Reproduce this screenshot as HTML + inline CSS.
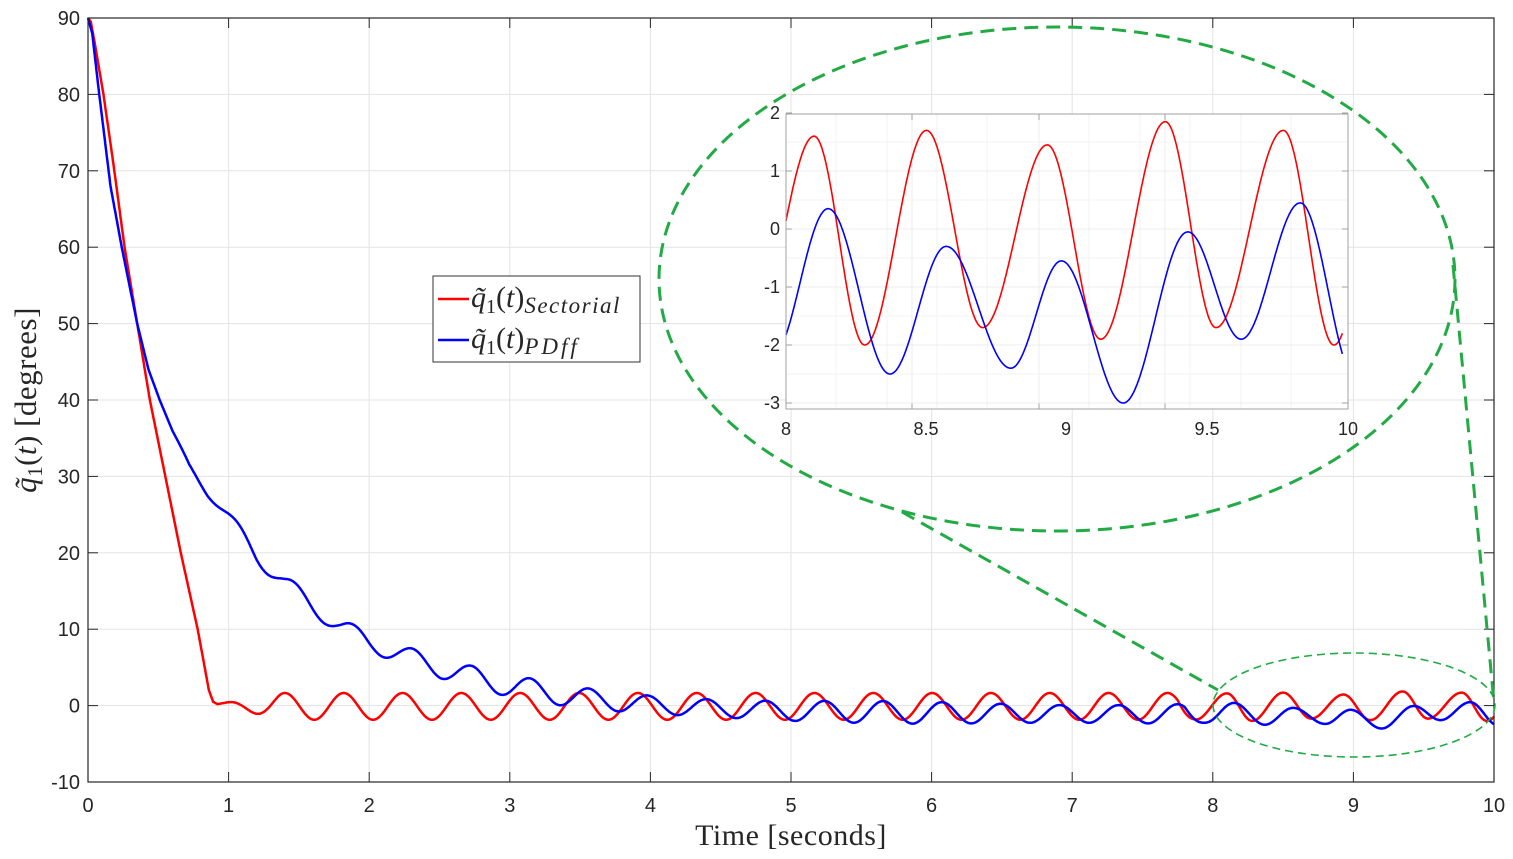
<!DOCTYPE html>
<html><head><meta charset="utf-8"><style>
html,body{margin:0;padding:0;background:#fff;}
svg{display:block;}
.tk{font-family:"Liberation Sans",sans-serif;font-size:20px;fill:#262626;}
.tki{font-family:"Liberation Sans",sans-serif;font-size:18px;fill:#262626;}
.ser{font-family:"Liberation Serif","DejaVu Serif",serif;fill:#262626;}
</style></head><body>
<svg id="s" width="1513" height="859" viewBox="0 0 1513 859" xmlns="http://www.w3.org/2000/svg">
<rect width="1513" height="859" fill="#fff"/>
<g id="grid" stroke="#e3e3e3" stroke-width="1"></g>
<g id="ticks" stroke="#262626" stroke-width="1"></g>
<path id="red" fill="none" stroke="#ff0000" stroke-width="2.5"/>
<path id="blue" fill="none" stroke="#0000ff" stroke-width="2.5"/>
<rect x="88" y="18" width="1406" height="764" fill="none" stroke="#262626" stroke-width="1.2"/>
<g id="labels"></g>
<text class="ser" x="791" y="845" font-size="30" text-anchor="middle" letter-spacing="0.5">Time [seconds]</text>
<text class="ser" font-size="31" transform="translate(36,400) rotate(-90)" text-anchor="middle" letter-spacing="0.5"><tspan font-style="italic">q̃</tspan><tspan font-size="21" dy="6">1</tspan><tspan dy="-6">(</tspan><tspan font-style="italic">t</tspan><tspan>)  [degrees]</tspan></text>
<!-- legend -->
<rect x="433" y="276" width="207" height="86" fill="#fff" stroke="#333" stroke-width="1"/>
<line x1="438" y1="299" x2="469" y2="299" stroke="#ff0000" stroke-width="2.5"/>
<line x1="438" y1="340" x2="469" y2="340" stroke="#0000ff" stroke-width="2.5"/>
<text class="ser" x="471" y="307" font-size="30"><tspan font-style="italic">q̃</tspan><tspan font-size="20" dy="6">1</tspan><tspan dy="-6">(</tspan><tspan font-style="italic">t</tspan><tspan>)</tspan><tspan font-style="italic" font-size="23" dy="6" letter-spacing="1.5">Sectorial</tspan></text>
<text class="ser" x="471" y="348" font-size="30"><tspan font-style="italic">q̃</tspan><tspan font-size="20" dy="6">1</tspan><tspan dy="-6">(</tspan><tspan font-style="italic">t</tspan><tspan>)</tspan><tspan font-style="italic" font-size="23" dy="6" letter-spacing="3">PDff</tspan></text>
<!-- zoom annotations -->
<ellipse cx="1057" cy="279" rx="398" ry="252" fill="none" stroke="#22aa44" stroke-width="3" stroke-dasharray="14,8"/>
<ellipse cx="1354" cy="705" rx="141" ry="52" fill="none" stroke="#22aa44" stroke-width="1.6" stroke-dasharray="8,5"/>
<line x1="902" y1="512" x2="1218" y2="690" stroke="#22aa44" stroke-width="3" stroke-dasharray="14,8"/>
<line x1="1453" y1="265" x2="1494" y2="703" stroke="#22aa44" stroke-width="3" stroke-dasharray="14,8"/>
<!-- inset -->
<rect x="786" y="114" width="562" height="295" fill="#fff"/>
<g id="igrid" stroke="#ececec" stroke-width="1"></g>
<path id="ired" fill="none" stroke="#ff0000" stroke-width="1.6"/>
<path id="iblue" fill="none" stroke="#0000ff" stroke-width="1.6"/>
<rect x="786" y="114" width="562" height="295" fill="none" stroke="#a0a0a0" stroke-width="1"/>
<g id="ilabels"></g>
</svg>
<script>
var NS="http://www.w3.org/2000/svg";
function el(p,tag,a,txt){var e=document.createElementNS(NS,tag);for(var k in a)e.setAttribute(k,a[k]);if(txt!==undefined)e.textContent=txt;document.getElementById(p).appendChild(e);return e;}
function X(t){return 88+140.6*t;} function Y(v){return 705.6-7.64*v;}
for(var i=0;i<=10;i++){var x=X(i);
 if(i>0&&i<10)el("grid","line",{x1:x,y1:18,x2:x,y2:782});
 el("ticks","line",{x1:x,y1:782,x2:x,y2:772});el("ticks","line",{x1:x,y1:18,x2:x,y2:28});
 el("labels","text",{x:x,y:812,"class":"tk","text-anchor":"middle"},String(i));}
for(var v=-10;v<=90;v+=10){var y=Y(v);
 if(v>-10&&v<90)el("grid","line",{x1:88,y1:y,x2:1494,y2:y});
 el("ticks","line",{x1:88,y1:y,x2:98,y2:y});el("ticks","line",{x1:1494,y1:y,x2:1484,y2:y});
 el("labels","text",{x:80,y:y+7,"class":"tk","text-anchor":"end"},String(v));}
function interp(pts,t){if(t<=pts[0][0])return pts[0][1];for(var i=0;i<pts.length-1;i++){if(t<=pts[i+1][0]){var a=pts[i],b=pts[i+1],f=(t-a[0])/(b[0]-a[0]);var s=(1-Math.cos(Math.PI*f))/2;return a[1]+(b[1]-a[1])*(pts.smooth?s:f);}}return pts[pts.length-1][1];}
var P=0.4185;
var rdec=[[0,90],[0.02,89.5],[0.05,86.5],[0.11,80],[0.18,71],[0.26,60],[0.35,50],[0.44,40],[0.55,30],[0.66,20],[0.78,10],[0.83,5],[0.86,2],[0.89,0.5],[0.92,0.2]];
var rext=[[7.88,-1.8],[8.1,1.6],[8.28,-2.0],[8.5,1.7],[8.7,-1.7],[8.93,1.45],[9.12,-1.9],[9.35,1.85],[9.53,-1.7],[9.77,1.7],[9.95,-2.0],[10.15,1.7]];rext.smooth=1;
var bext=[[7.95,-2.2],[8.15,0.35],[8.37,-2.5],[8.57,-0.3],[8.8,-2.4],[8.98,-0.55],[9.2,-3.0],[9.43,-0.05],[9.62,-1.9],[9.83,0.45],[10.03,-2.6]];bext.smooth=1;
function blendf(a,b,t,t0,t1){if(t<=t0)return a(t);if(t>=t1)return b(t);var f=(t-t0)/(t1-t0);return a(t)*(1-f)+b(t)*f;}
function red0(t){if(t<0.92)return interp(rdec,t);
 var r=Math.min(1,(t-0.92)/0.45);
 return (-0.1*r+0.2*(1-r))+1.75*r*Math.cos(2*Math.PI*(t-1.4)/P);}
function red(t){return blendf(red0,function(t){return interp(rext,t);},t,7.75,7.95);}
var bm=[[0,90],[0.03,88],[0.08,80],[0.16,68],[0.24,60],[0.35,50],[0.43,44],[0.51,40],[0.6,36],[0.72,31.5],[0.85,28],[1.0,24.5],[1.2,19.8],[1.4,16],[1.6,13],[1.8,10.3],[2.0,8.3],[2.25,6.5],[2.5,5],[2.7,3.9],[3.0,2.6],[3.3,1.6],[3.6,0.8],[4.0,0.1],[4.5,-0.4],[5,-0.7],[6,-0.95],[7,-1.1],[10,-1.15]];
function blue0(t){var m=interp(bm,t);
 var amp=t<0.6?0:1.3*Math.min(1,(t-0.6)/0.6)*(1+0.12*Math.sin(t*2.3+1));
 return m+amp*Math.cos(2*Math.PI*(t-1.47)/P);}
function blue(t){return blendf(blue0,function(t){return interp(bext,t);},t,7.8,7.97);}
function path(f,x,y,t0,t1,n){var d="";for(var i=0;i<=n;i++){var t=t0+(t1-t0)*i/n;d+=(i?"L":"M")+x(t).toFixed(1)+","+y(f(t)).toFixed(1);}return d;}
document.getElementById("red").setAttribute("d",path(red,X,Y,0,10,3000));
document.getElementById("blue").setAttribute("d",path(blue,X,Y,0,10,3000));
function IX(t){return 786+281*(t-8);} function IY(v){return 229-58*v;}
function clampY(f){return function(t){return Math.max(-3.08,Math.min(2.0,f(t)));};}
document.getElementById("ired").setAttribute("d",path(clampY(red),IX,IY,8,9.98,1500));
document.getElementById("iblue").setAttribute("d",path(clampY(blue),IX,IY,8,9.98,1500));
[836,887,937,987,1089,1140,1190,1241,1291].forEach(function(x){el("igrid","line",{x1:x,y1:114,x2:x,y2:409,stroke:"#f3f3f3"});});
[912,1039,1165].forEach(function(x){el("igrid","line",{x1:x,y1:114,x2:x,y2:409});el("igrid","line",{x1:x,y1:409,x2:x,y2:403,stroke:"#a0a0a0"});el("igrid","line",{x1:x,y1:114,x2:x,y2:120,stroke:"#a0a0a0"});});
[142,200,258,316,374].forEach(function(y){el("igrid","line",{x1:786,y1:y,x2:1348,y2:y,stroke:"#f3f3f3"});});
[[2,113],[1,171],[0,229],[-1,287],[-2,345],[-3,403]].forEach(function(p){var y=p[1];
 if(p[0]!=2)el("igrid","line",{x1:786,y1:y,x2:1348,y2:y});
 el("igrid","line",{x1:786,y1:y,x2:792,y2:y,stroke:"#a0a0a0"});el("igrid","line",{x1:1348,y1:y,x2:1342,y2:y,stroke:"#a0a0a0"});
 el("ilabels","text",{x:780,y:y+6,"class":"tki","text-anchor":"end"},String(p[0]));});
[["8",786],["8.5",926],["9",1066],["9.5",1207],["10",1348]].forEach(function(p){el("ilabels","text",{x:p[1],y:435,"class":"tki","text-anchor":"middle"},p[0]);});
</script>
</body></html>
